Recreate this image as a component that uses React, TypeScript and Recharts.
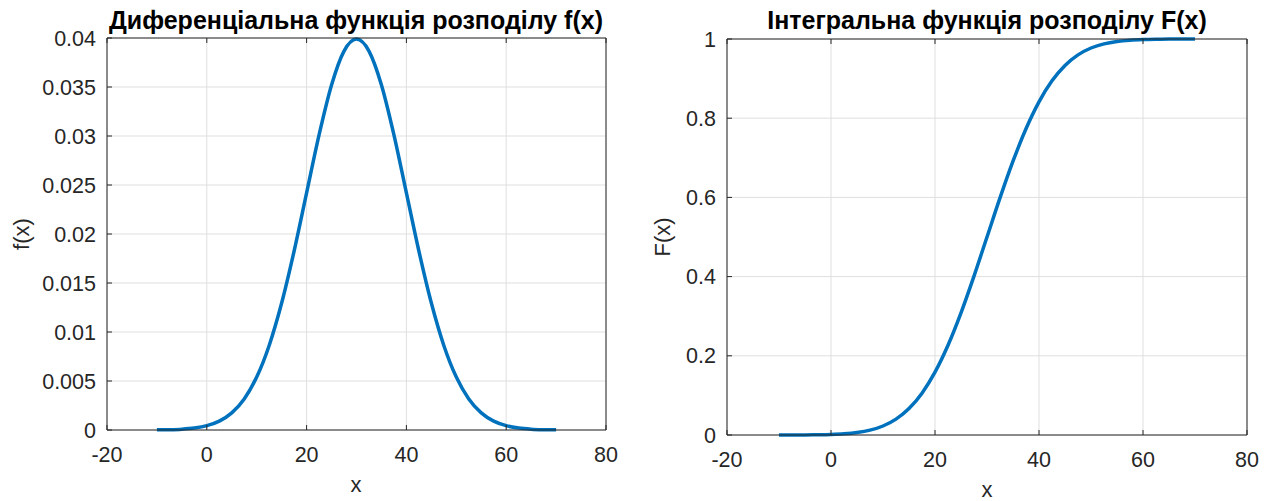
import React from "react";
import { CartesianGrid, Line, LineChart, XAxis, YAxis } from "recharts";

// values (mean ~30, spread ~10)
const xValues = [
  -10, -7.5, -5, -2.5, 0, 2.5, 5, 7.5, 10, 12.5, 15, 17.5, 20, 22.5, 25, 27.5, 30,
  32.5, 35, 37.5, 40, 42.5, 45, 47.5, 50, 52.5, 55, 57.5, 60, 62.5, 65, 67.5, 70,
];
const densityValues = [
  0.000013, 0.000035, 0.000087, 0.000203, 0.000443, 0.000909, 0.001753, 0.003174,
  0.005399, 0.008628, 0.012952, 0.018265, 0.024197, 0.030114, 0.035207, 0.038667,
  0.039894, 0.038667, 0.035207, 0.030114, 0.024197, 0.018265, 0.012952, 0.008628,
  0.005399, 0.003174, 0.001753, 0.000909, 0.000443, 0.000203, 0.000087, 0.000035,
  0.000013,
];
const cumulativeValues = [
  0.00003, 0.00009, 0.00023, 0.00058, 0.00135, 0.00298, 0.00621, 0.01222, 0.02275,
  0.04006, 0.06681, 0.10565, 0.15866, 0.22663, 0.30854, 0.40129, 0.5, 0.59871,
  0.69146, 0.77337, 0.84134, 0.89435, 0.93319, 0.95994, 0.97725, 0.98778, 0.99379,
  0.99702, 0.99865, 0.99942, 0.99977, 0.99991, 0.99997,
];
const xTicks = [-20, 0, 20, 40, 60, 80];
const densityTicks = [0, 0.005, 0.01, 0.015, 0.02, 0.025, 0.03, 0.035, 0.04];
const densityTickLabels = ["0", "0.005", "0.01", "0.015", "0.02", "0.025", "0.03", "0.035", "0.04"];
const cumulativeTicks = [0, 0.2, 0.4, 0.6, 0.8, 1];
const cumulativeTickLabels = ["0", "0.2", "0.4", "0.6", "0.8", "1"];

const densityTitle = "Диференціальна функція розподілу f(x)";
const cumulativeTitle = "Інтегральна функція розподілу F(x)";

const FONT = '"Liberation Sans", Arial, Helvetica, sans-serif';
const AXIS_COLOR = "#262626";
const GRID_COLOR = "#dfdfdf";
const LINE_COLOR = "#0072BD";
const TICK_FONT = 21.5;
const TICK_LEN = 5;
const AXIS_BAND = 10;

type PanelProps = {
  left: number;
  width: number;
  height: number;
  // plot box edges inside this panel
  plot: { top: number; right: number; bottom: number; left: number };
  values: number[];
  yTicks: number[];
  yTickLabels: string[];
  yMax: number;
  xLabelDy: number;
};

const Panel = ({ left, width, height, plot, values, yTicks, yTickLabels, yMax, xLabelDy }: PanelProps) => {
  const data = xValues.map((x, i) => ({ x, y: values[i] }));
  const margin = {
    top: plot.top - AXIS_BAND,
    right: width - plot.right - AXIS_BAND,
    bottom: height - plot.bottom - AXIS_BAND,
    left: plot.left - AXIS_BAND,
  };

  const BottomTick = (props: any) => {
    const { x, y, payload } = props;
    return (
      <g>
        <line x1={x} y1={y} x2={x} y2={y - TICK_LEN} stroke={AXIS_COLOR} strokeWidth={1} />
        <text x={x} y={y + xLabelDy} textAnchor="middle" fill={AXIS_COLOR} fontSize={TICK_FONT} fontFamily={FONT}>
          {payload.value}
        </text>
      </g>
    );
  };

  const TopTick = (props: any) => {
    const { x, y } = props;
    return <line x1={x} y1={y} x2={x} y2={y + TICK_LEN} stroke={AXIS_COLOR} strokeWidth={1} />;
  };

  const LeftTick = (props: any) => {
    const { x, y, payload } = props;
    const idx = yTicks.indexOf(payload.value);
    return (
      <g>
        <line x1={x} y1={y} x2={x + TICK_LEN} y2={y} stroke={AXIS_COLOR} strokeWidth={1} />
        <text x={x - 11} y={y + 7.5} textAnchor="end" fill={AXIS_COLOR} fontSize={TICK_FONT} fontFamily={FONT}>
          {idx >= 0 ? yTickLabels[idx] : payload.value}
        </text>
      </g>
    );
  };

  const RightTick = (props: any) => {
    const { x, y } = props;
    return <line x1={x} y1={y} x2={x - TICK_LEN} y2={y} stroke={AXIS_COLOR} strokeWidth={1} />;
  };

  const axisLine = { stroke: AXIS_COLOR, strokeWidth: 1 };

  return (
    <div style={{ position: "absolute", left, top: 0, width, height }}>
      <LineChart width={width} height={height} data={data} margin={margin}>
        <CartesianGrid stroke={GRID_COLOR} strokeWidth={1} />
        <XAxis
          dataKey="x"
          type="number"
          domain={[-20, 80]}
          ticks={xTicks}
          height={AXIS_BAND}
          tickSize={0}
          tickMargin={0}
          tickLine={false}
          tick={BottomTick}
          axisLine={axisLine}
          interval={0}
        />
        <XAxis
          xAxisId="top"
          orientation="top"
          dataKey="x"
          type="number"
          domain={[-20, 80]}
          ticks={xTicks}
          height={AXIS_BAND}
          tickSize={0}
          tickMargin={0}
          tickLine={false}
          tick={TopTick}
          axisLine={axisLine}
          interval={0}
        />
        <YAxis
          type="number"
          domain={[0, yMax]}
          ticks={yTicks}
          width={AXIS_BAND}
          tickSize={0}
          tickMargin={0}
          tickLine={false}
          tick={LeftTick}
          axisLine={axisLine}
          interval={0}
        />
        <YAxis
          yAxisId="right"
          orientation="right"
          type="number"
          domain={[0, yMax]}
          ticks={yTicks}
          width={AXIS_BAND}
          tickSize={0}
          tickMargin={0}
          tickLine={false}
          tick={RightTick}
          axisLine={axisLine}
          interval={0}
        />
        <Line
          dataKey="y"
          type="monotone"
          stroke={LINE_COLOR}
          strokeWidth={3.5}
          dot={false}
          isAnimationActive={false}
        />
      </LineChart>
    </div>
  );
};

const App = () => (
  <div style={{ position: "fixed", left: 0, top: 0, width: 1267, height: 501, background: "#fff" }}>
    <Panel
      left={0}
      width={640}
      height={501}
      plot={{ top: 38, right: 606, bottom: 430, left: 107 }}
      values={densityValues}
      yTicks={densityTicks}
      yTickLabels={densityTickLabels}
      yMax={0.04}
      xLabelDy={31.5}
    />
    <Panel
      left={640}
      width={627}
      height={501}
      plot={{ top: 39, right: 607, bottom: 435, left: 87 }}
      values={cumulativeValues}
      yTicks={cumulativeTicks}
      yTickLabels={cumulativeTickLabels}
      yMax={1}
      xLabelDy={32}
    />
    <svg
      width={1267}
      height={501}
      style={{ position: "absolute", left: 0, top: 0, pointerEvents: "none" }}
      fontFamily={FONT}
    >
      <text x={356} y={29} textAnchor="middle" fontSize={25} fontWeight="bold" fill="#000">
        {densityTitle}
      </text>
      <text x={987} y={29} textAnchor="middle" fontSize={25} fontWeight="bold" fill="#000">
        {cumulativeTitle}
      </text>
      <text x={356} y={492} textAnchor="middle" fontSize={22} fill={AXIS_COLOR}>
        x
      </text>
      <text x={987} y={497} textAnchor="middle" fontSize={22} fill={AXIS_COLOR}>
        x
      </text>
      <text x={21} y={234} textAnchor="middle" fontSize={22} fill={AXIS_COLOR} transform="rotate(-90 21 234)" dy={8}>
        f(x)
      </text>
      <text x={662} y={237} textAnchor="middle" fontSize={22} fill={AXIS_COLOR} transform="rotate(-90 662 237)" dy={8}>
        F(x)
      </text>
    </svg>
  </div>
);

export default App;
